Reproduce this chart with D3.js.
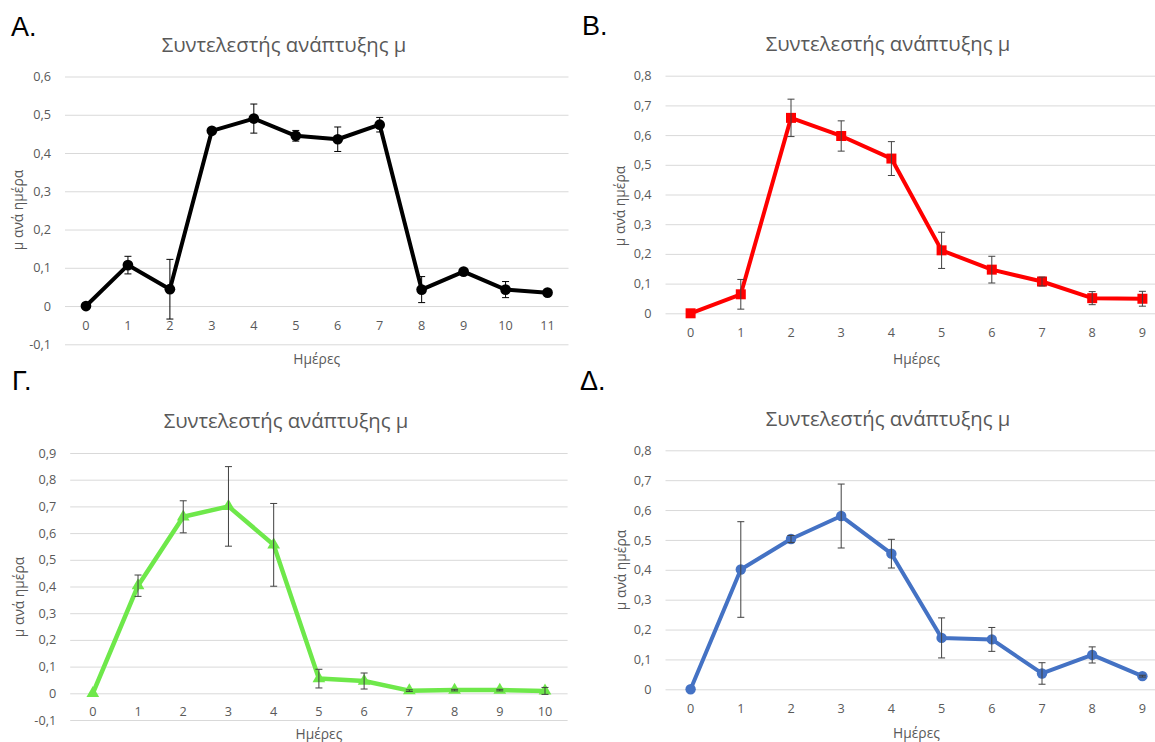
<!DOCTYPE html>
<html>
<head>
<meta charset="utf-8">
<script src="https://cdn.jsdelivr.net/npm/d3@7"></script>
<style>
  body { margin: 0; background: #fff; }
  svg { display: block; }
  text { font-family: "Open Sans", "Noto Sans", sans-serif; }
</style>
</head>
<body>
<svg id="chart" width="1155" height="742"></svg>
<script>
// Τιμές που διαβάστηκαν από τα τέσσερα διαγράμματα

const daysA = [0, 1, 2, 3, 4, 5, 6, 7, 8, 9, 10, 11];
const muA = [0, 0.107, 0.044, 0.458, 0.49, 0.445, 0.436, 0.474, 0.043, 0.09, 0.043, 0.035];
const errA = [0, 0.023, 0.078, 0.005, 0.038, 0.014, 0.032, 0.019, 0.034, 0.006, 0.021, 0.004];
const yTicksA = [-0.1, 0, 0.1, 0.2, 0.3, 0.4, 0.5, 0.6];

const daysB = [0, 1, 2, 3, 4, 5, 6, 7, 8, 9];
const muB = [0, 0.064, 0.658, 0.597, 0.521, 0.212, 0.147, 0.107, 0.051, 0.049];
const errB = [0, 0.05, 0.063, 0.051, 0.057, 0.061, 0.045, 0.015, 0.022, 0.025];
const yTicksB = [0, 0.1, 0.2, 0.3, 0.4, 0.5, 0.6, 0.7, 0.8];

const daysC = [0, 1, 2, 3, 4, 5, 6, 7, 8, 9, 10];
const muC = [0, 0.403, 0.661, 0.7, 0.556, 0.055, 0.046, 0.01, 0.012, 0.012, 0.009];
const errC = [0, 0.04, 0.06, 0.149, 0.155, 0.035, 0.03, 0.003, 0.003, 0.003, 0.013];
const yTicksC = [-0.1, 0, 0.1, 0.2, 0.3, 0.4, 0.5, 0.6, 0.7, 0.8, 0.9];

const daysD = [0, 1, 2, 3, 4, 5, 6, 7, 8, 9];
const muD = [0, 0.401, 0.503, 0.58, 0.454, 0.172, 0.167, 0.053, 0.115, 0.044];
const errD = [0, 0.16, 0.012, 0.107, 0.048, 0.067, 0.04, 0.036, 0.027, 0.003];
const yTicksD = [0, 0.1, 0.2, 0.3, 0.4, 0.5, 0.6, 0.7, 0.8];

const chartTitle = "Συντελεστής ανάπτυξης μ";
const xTitle = "Ημέρες";
const yTitle = "μ ανά ημέρα";

// Μορφή αριθμών με κόμμα
const locale = d3.formatLocale({
  decimal: ",",
  thousands: ".",
  grouping: [3],
  currency: ["", ""],
  minus: "-",
});
const fmt = (v) => (Math.abs(v) < 1e-9 ? "0" : locale.format(".1f")(v));

const svg = d3.select("#chart");

// Ένα διάγραμμα
function drawPanel(p) {
  const g = svg.append("g");
  const w = p.right - p.left;

  const x = d3.scaleBand().domain(p.days).range([p.left, p.right]);
  const y = d3.scaleLinear().domain(p.yDomain).range(p.yRange);
  const cx = (d) => x(d) + x.bandwidth() / 2;

  // Πλέγμα και άξονας y
  const yAxis = g
    .append("g")
    .attr("transform", "translate(" + p.left + ",0)")
    .call(
      d3.axisLeft(y).tickValues(p.yTicks).tickSize(-w).tickPadding(14).tickFormat(fmt)
    );
  yAxis.select(".domain").remove();
  yAxis.selectAll("line").attr("stroke", "#d9d9d9").attr("stroke-width", 1);
  yAxis
    .selectAll("text")
    .attr("fill", "#595959")
    .style("font-size", "12.7px");

  // Άξονας x στο μηδέν
  const xAxis = g
    .append("g")
    .attr("transform", "translate(0," + y(0) + ")")
    .call(d3.axisBottom(x).tickSize(0).tickPadding(p.xPad));
  xAxis.select(".domain").remove();
  xAxis
    .selectAll("text")
    .attr("fill", "#595959")
    .style("font-size", "12.7px");

  const data = p.days.map((d, i) => ({ day: d, mu: p.mu[i], err: p.err[i] }));

  // Γραμμή
  g.append("path")
    .datum(data)
    .attr("fill", "none")
    .attr("stroke", p.color)
    .attr("stroke-width", p.lineWidth)
    .attr("stroke-linejoin", "round")
    .attr("d", d3.line().x((d) => cx(d.day)).y((d) => y(d.mu)));

  // Σημεία
  const sym = d3.symbol().type(p.symbol).size(p.symbolSize);
  g.selectAll(".pt")
    .data(data)
    .enter()
    .append("path")
    .attr("class", "pt")
    .attr("transform", (d) => "translate(" + cx(d.day) + "," + y(d.mu) + ")")
    .attr("d", sym)
    .attr("fill", p.color);

  // Ράβδοι σφάλματος
  const eb = g
    .selectAll(".err")
    .data(data.filter((d) => d.err > 0))
    .enter()
    .append("g")
    .attr("class", "err")
    .attr("stroke", p.errColor)
    .attr("stroke-width", 1);
  eb.append("line")
    .attr("x1", (d) => cx(d.day))
    .attr("x2", (d) => cx(d.day))
    .attr("y1", (d) => y(d.mu - d.err))
    .attr("y2", (d) => y(d.mu + d.err));
  [1, -1].forEach((s) => {
    eb.append("line")
      .attr("x1", (d) => cx(d.day) - 3.5)
      .attr("x2", (d) => cx(d.day) + 3.5)
      .attr("y1", (d) => y(d.mu + s * d.err))
      .attr("y2", (d) => y(d.mu + s * d.err));
  });

  // Τίτλοι
  g.append("text")
    .attr("x", p.titleX)
    .attr("y", p.titleY)
    .attr("text-anchor", "middle")
    .attr("dominant-baseline", "central")
    .attr("fill", "#595959")
    .style("font-size", "20.3px")
    .text(chartTitle);

  g.append("text")
    .attr("x", (p.left + p.right) / 2)
    .attr("y", p.xTitleY)
    .attr("text-anchor", "middle")
    .attr("dominant-baseline", "central")
    .attr("fill", "#595959")
    .style("font-size", "13.8px")
    .text(xTitle);

  g.append("text")
    .attr("transform", "translate(" + p.yTitleX + "," + p.yTitleY + ") rotate(-90)")
    .attr("text-anchor", "middle")
    .attr("dominant-baseline", "central")
    .attr("fill", "#595959")
    .style("font-size", "13.8px")
    .text(yTitle);

  svg.append("text")
    .attr("x", p.tagX)
    .attr("y", p.tagY)
    .attr("fill", "#000")
    .style("font-family", "'Liberation Sans', Arial, sans-serif")
    .style("font-size", "27px")
    .text(p.tag);
}

drawPanel({
  tag: "A.", tagX: 11, tagY: 36,
  days: daysA, mu: muA, err: errA, yTicks: yTicksA,
  left: 65, right: 568.5, yDomain: [-0.1, 0.6], yRange: [344.3, 76.5],
  xPad: 15, titleX: 284, titleY: 44, xTitleY: 358, yTitleX: 17, yTitleY: 210,
  color: "#000000", errColor: "#000000", lineWidth: 4,
  symbol: d3.symbolCircle, symbolSize: 90,
});

drawPanel({
  tag: "B.", tagX: 582, tagY: 35,
  days: daysB, mu: muB, err: errB, yTicks: yTicksB,
  left: 665.5, right: 1167.5, yDomain: [0, 0.8], yRange: [313.3, 75.7],
  xPad: 15, titleX: 888, titleY: 43, xTitleY: 358, yTitleX: 619, yTitleY: 206,
  color: "#ff0000", errColor: "#404040", lineWidth: 4,
  symbol: d3.symbolSquare, symbolSize: 100,
});

drawPanel({
  tag: "Γ.", tagX: 12, tagY: 390,
  days: daysC, mu: muC, err: errC, yTicks: yTicksC,
  left: 70.2, right: 567.6, yDomain: [-0.1, 0.9], yRange: [720, 453],
  xPad: 14, titleX: 286, titleY: 420, xTitleY: 733, yTitleX: 18.5, yTitleY: 597,
  color: "#6ee84a", errColor: "#404040", lineWidth: 4.5,
  symbol: d3.symbolTriangle, symbolSize: 70,
});

drawPanel({
  tag: "Δ.", tagX: 580, tagY: 390,
  days: daysD, mu: muD, err: errD, yTicks: yTicksD,
  left: 665.5, right: 1167.5, yDomain: [0, 0.8], yRange: [689.3, 450.3],
  xPad: 15, titleX: 888, titleY: 418, xTitleY: 732, yTitleX: 620.6, yTitleY: 570,
  color: "#4472c4", errColor: "#404040", lineWidth: 4,
  symbol: d3.symbolCircle, symbolSize: 85,
});
</script>
</body>
</html>
